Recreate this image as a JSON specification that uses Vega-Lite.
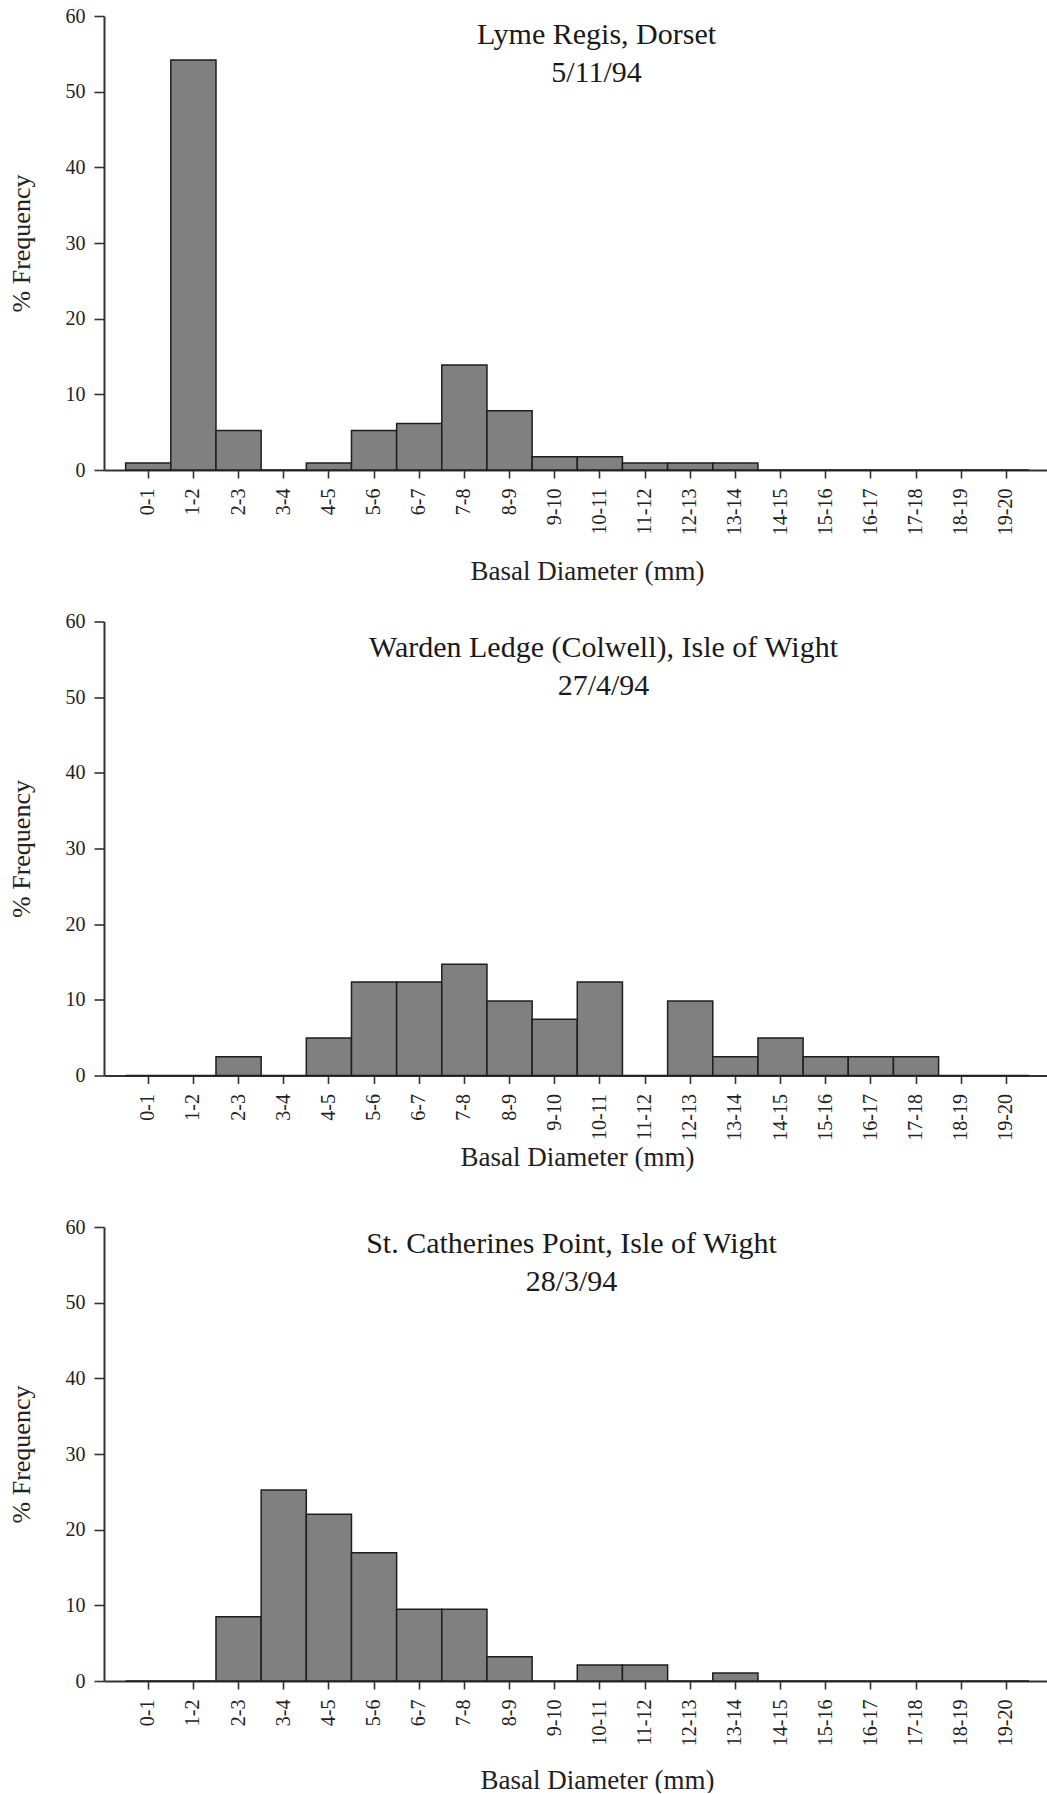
{
  "$schema": "https://vega.github.io/schema/vega-lite/v6.json",
  "background": "white",
  "padding": {"left": 8, "top": 6, "right": 0, "bottom": 0},
  "bounds": "flush",
  "spacing": 151.5,
  "config": {
    "view": {"stroke": null},
    "font": "Liberation Serif",
    "axis": {
      "grid": false,
      "domainColor": "#333333",
      "domainWidth": 2,
      "tickColor": "#333333",
      "tickWidth": 1.6,
      "labelFont": "Liberation Serif",
      "labelFontSize": 20,
      "labelColor": "#222222",
      "labelFlush": false,
      "titleFont": "Liberation Serif",
      "titleFontWeight": "normal",
      "titleColor": "#222222"
    },
    "title": {
      "font": "Liberation Serif",
      "fontSize": 30,
      "fontWeight": "normal",
      "color": "#1a1a1a",
      "lineHeight": 38,
      "anchor": "middle",
      "frame": "group",
      "baseline": "top"
    }
  },
  "datasets": {
    "lyme": [
      {"range": "0-1", "percent": 0.92},
      {"range": "1-2", "percent": 54.2},
      {"range": "2-3", "percent": 5.22},
      {"range": "3-4", "percent": 0},
      {"range": "4-5", "percent": 0.92},
      {"range": "5-6", "percent": 5.22},
      {"range": "6-7", "percent": 6.15},
      {"range": "7-8", "percent": 13.88},
      {"range": "8-9", "percent": 7.83},
      {"range": "9-10", "percent": 1.76},
      {"range": "10-11", "percent": 1.76},
      {"range": "11-12", "percent": 0.92},
      {"range": "12-13", "percent": 0.92},
      {"range": "13-14", "percent": 0.92},
      {"range": "14-15", "percent": 0},
      {"range": "15-16", "percent": 0},
      {"range": "16-17", "percent": 0},
      {"range": "17-18", "percent": 0},
      {"range": "18-19", "percent": 0},
      {"range": "19-20", "percent": 0}
    ],
    "warden": [
      {"range": "0-1", "percent": 0},
      {"range": "1-2", "percent": 0},
      {"range": "2-3", "percent": 2.47},
      {"range": "3-4", "percent": 0},
      {"range": "4-5", "percent": 4.97},
      {"range": "5-6", "percent": 12.37},
      {"range": "6-7", "percent": 12.37},
      {"range": "7-8", "percent": 14.7},
      {"range": "8-9", "percent": 9.86},
      {"range": "9-10", "percent": 7.42},
      {"range": "10-11", "percent": 12.35},
      {"range": "11-12", "percent": 0},
      {"range": "12-13", "percent": 9.86},
      {"range": "13-14", "percent": 2.47},
      {"range": "14-15", "percent": 4.97},
      {"range": "15-16", "percent": 2.47},
      {"range": "16-17", "percent": 2.47},
      {"range": "17-18", "percent": 2.47},
      {"range": "18-19", "percent": 0},
      {"range": "19-20", "percent": 0}
    ],
    "stcath": [
      {"range": "0-1", "percent": 0},
      {"range": "1-2", "percent": 0},
      {"range": "2-3", "percent": 8.5},
      {"range": "3-4", "percent": 25.24},
      {"range": "4-5", "percent": 22.03},
      {"range": "5-6", "percent": 16.96},
      {"range": "6-7", "percent": 9.47},
      {"range": "7-8", "percent": 9.47},
      {"range": "8-9", "percent": 3.2},
      {"range": "9-10", "percent": 0},
      {"range": "10-11", "percent": 2.11},
      {"range": "11-12", "percent": 2.11},
      {"range": "12-13", "percent": 0},
      {"range": "13-14", "percent": 1.06},
      {"range": "14-15", "percent": 0},
      {"range": "15-16", "percent": 0},
      {"range": "16-17", "percent": 0},
      {"range": "17-18", "percent": 0},
      {"range": "18-19", "percent": 0},
      {"range": "19-20", "percent": 0}
    ]
  },
  "vconcat": [
    {
      "width": 943,
      "height": 454,
      "data": {"name": "lyme"},
      "title": {"text": ["Lyme Regis, Dorset", "5/11/94"], "offset": -81.7, "dx": 21},
      "mark": {"type": "bar", "fill": "#808080", "stroke": "#1e1e1e", "strokeWidth": 1.5},
      "encoding": {
        "x": {
          "field": "range", "type": "ordinal", "sort": null,
          "scale": {"domain": ["0-1","1-2","2-3","3-4","4-5","5-6","6-7","7-8","8-9","9-10","10-11","11-12","12-13","13-14","14-15","15-16","16-17","17-18","18-19","19-20"], "paddingInner": 0, "paddingOuter": 0.44, "align": 0.545},
          "axis": {"title": "Basal Diameter (mm)", "titleFontSize": 27, "labelAngle": -90, "labelOverlap": false, "tickSize": 8, "labelPadding": 10, "titleX": 483, "titleY": 109, "titleBaseline": "alphabetic", "titleAlign": "center", "titleAnchor": null}
        },
        "y": {
          "field": "percent", "type": "quantitative",
          "scale": {"domain": [0, 60], "nice": false},
          "axis": {"title": "% Frequency", "titleFontSize": 26, "values": [0, 10, 20, 30, 40, 50, 60], "tickSize": 10, "labelPadding": 9, "titleX": -75, "titleY": 227, "titleAngle": -90, "titleBaseline": "alphabetic", "titleAlign": "center", "titleAnchor": null}
        }
      }
    },
    {
      "width": 943,
      "height": 454,
      "data": {"name": "warden"},
      "title": {"text": ["Warden Ledge (Colwell), Isle of Wight", "27/4/94"], "offset": -89.7, "dx": 28},
      "mark": {"type": "bar", "fill": "#808080", "stroke": "#1e1e1e", "strokeWidth": 1.5},
      "encoding": {
        "x": {
          "field": "range", "type": "ordinal", "sort": null,
          "scale": {"domain": ["0-1","1-2","2-3","3-4","4-5","5-6","6-7","7-8","8-9","9-10","10-11","11-12","12-13","13-14","14-15","15-16","16-17","17-18","18-19","19-20"], "paddingInner": 0, "paddingOuter": 0.44, "align": 0.545},
          "axis": {"title": "Basal Diameter (mm)", "titleFontSize": 27, "labelAngle": -90, "labelOverlap": false, "tickSize": 8, "labelPadding": 10, "titleX": 473, "titleY": 90, "titleBaseline": "alphabetic", "titleAlign": "center", "titleAnchor": null}
        },
        "y": {
          "field": "percent", "type": "quantitative",
          "scale": {"domain": [0, 60], "nice": false},
          "axis": {"title": "% Frequency", "titleFontSize": 26, "values": [0, 10, 20, 30, 40, 50, 60], "tickSize": 10, "labelPadding": 9, "titleX": -75, "titleY": 227, "titleAngle": -90, "titleBaseline": "alphabetic", "titleAlign": "center", "titleAnchor": null}
        }
      }
    },
    {
      "width": 943,
      "height": 454,
      "data": {"name": "stcath"},
      "title": {"text": ["St. Catherines Point, Isle of Wight", "28/3/94"], "offset": -80.4, "dx": -4},
      "mark": {"type": "bar", "fill": "#808080", "stroke": "#1e1e1e", "strokeWidth": 1.5},
      "encoding": {
        "x": {
          "field": "range", "type": "ordinal", "sort": null,
          "scale": {"domain": ["0-1","1-2","2-3","3-4","4-5","5-6","6-7","7-8","8-9","9-10","10-11","11-12","12-13","13-14","14-15","15-16","16-17","17-18","18-19","19-20"], "paddingInner": 0, "paddingOuter": 0.44, "align": 0.545},
          "axis": {"title": "Basal Diameter (mm)", "titleFontSize": 27, "labelAngle": -90, "labelOverlap": false, "tickSize": 8, "labelPadding": 10, "titleX": 493, "titleY": 107, "titleBaseline": "alphabetic", "titleAlign": "center", "titleAnchor": null}
        },
        "y": {
          "field": "percent", "type": "quantitative",
          "scale": {"domain": [0, 60], "nice": false},
          "axis": {"title": "% Frequency", "titleFontSize": 26, "values": [0, 10, 20, 30, 40, 50, 60], "tickSize": 10, "labelPadding": 9, "titleX": -75, "titleY": 227, "titleAngle": -90, "titleBaseline": "alphabetic", "titleAlign": "center", "titleAnchor": null}
        }
      }
    }
  ]
}
